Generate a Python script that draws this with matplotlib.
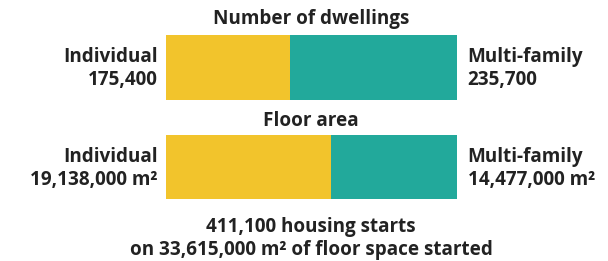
import matplotlib
matplotlib.use("Agg")
import matplotlib.pyplot as plt

# Data
bar_titles = ["Number of dwellings", "Floor area"]
individual = [175400, 19138000]
multi_family = [235700, 14477000]
left_labels = ["Individual\n175,400", "Individual\n19,138,000 m²"]
right_labels = ["Multi-family\n235,700", "Multi-family\n14,477,000 m²"]
footer = ["411,100 housing starts", "on 33,615,000 m² of floor space started"]

YELLOW = "#F2C42C"
TEAL = "#22A99B"
TXT = "#222222"

W, H = 608, 261
fig = plt.figure(figsize=(W / 100, H / 100), dpi=100)
plt.rcParams['font.family'] = ['Open Sans', 'DejaVu Sans']
FS = 13.6

bx0, bx1 = 166, 456.6
ax = fig.add_axes([bx0 / W, 0, (bx1 - bx0) / W, 1])
ax.set_xlim(0, 1)
ax.set_ylim(H, 0)
ax.axis("off")

centers = [67.2, 167.2]
heights = [65, 64.3]
title_y = [19, 121]

for i in range(2):
    tot = individual[i] + multi_family[i]
    fi = individual[i] / tot
    fm = multi_family[i] / tot
    ax.barh(centers[i], fi, height=heights[i], left=0, color=YELLOW)
    ax.barh(centers[i], fm, height=heights[i], left=fi, color=TEAL)
    ax.text(0.5, title_y[i], bar_titles[i], ha="center", va="center",
            fontsize=FS, fontweight="bold", color=TXT)
    ax.text(-8 / (bx1 - bx0), centers[i] + 1, left_labels[i], ha="right", va="center",
            fontsize=FS, fontweight="bold", color=TXT, linespacing=1.22)
    ax.text(1 + 11 / (bx1 - bx0), centers[i] + 1, right_labels[i], ha="left", va="center",
            fontsize=FS, fontweight="bold", color=TXT, linespacing=1.22)

ax.text(0.5, 227, footer[0], ha="center", va="center",
        fontsize=FS, fontweight="bold", color=TXT)
ax.text(0.5, 250, footer[1], ha="center", va="center",
        fontsize=FS, fontweight="bold", color=TXT)

fig.savefig("out.png", dpi=100)
